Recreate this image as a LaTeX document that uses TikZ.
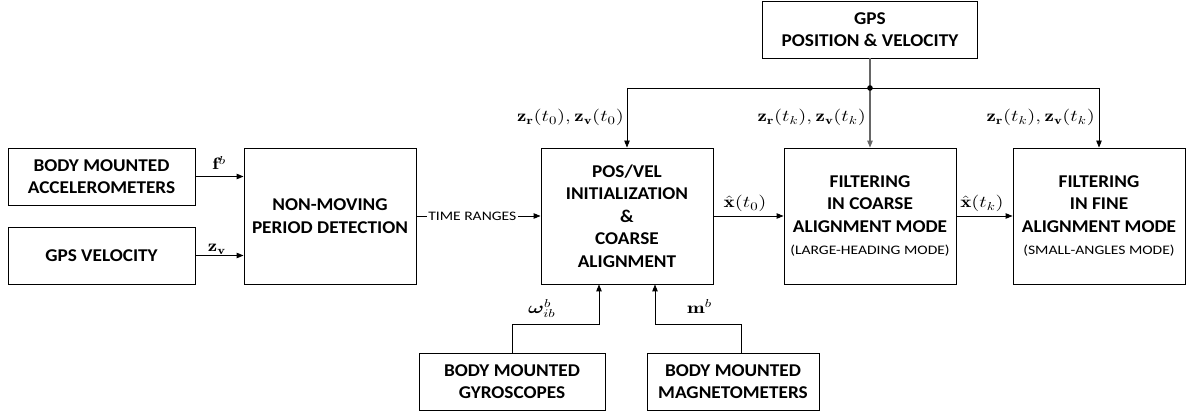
\RequirePackage{fix-cm}
\documentclass[tikz,border=0pt]{standalone}
\usepackage{fontspec}
\usepackage{amsmath,bm,graphicx}
\newfontfamily\carl[FakeStretch=1.07]{Carlito}
\newfontfamily\carlnote[FakeStretch=1.2]{Carlito}
\usetikzlibrary{arrows.meta}
\newcommand\blkfont{\carl\bfseries\fontsize{18}{22.5}\selectfont}
\newcommand\notefont{\carlnote\mdseries\fontsize{13}{16}\selectfont}
\newcommand\lblfont{\fontsize{16.5}{20}\selectfont}
\newcommand\mlbl[1]{\scalebox{1.28}[1]{$#1$}}
\begin{document}
\begin{tikzpicture}[x=1pt,y=-1pt,
  blk/.style={draw, line width=0.9pt, inner sep=0pt, align=center, font=\blkfont},
  conn/.style={line width=0.9pt, -{Triangle[length=7pt,width=5.5pt]}},
  wire/.style={line width=0.9pt},
  stem/.style={line width=1.1pt, draw=black!60},
  lbl/.style={inner sep=0pt, font=\lblfont}]
\useasboundingbox (0,0) rectangle (1187,414);

% sensor and source blocks
\node[blk, minimum width=187pt, minimum height=57pt] (acc) at (101.5,176.5) {BODY MOUNTED\\ACCELEROMETERS};
\node[blk, minimum width=187pt, minimum height=57pt] (gpsv) at (101.5,255.5) {GPS VELOCITY};
\node[blk, minimum width=215pt, minimum height=57pt] (gpspos) at (870,29.5) {GPS\\POSITION \& VELOCITY};
\node[blk, minimum width=186pt, minimum height=57pt] (gyro) at (512,381.5) {BODY MOUNTED\\GYROSCOPES};
\node[blk, minimum width=172pt, minimum height=57pt] (magn) at (733,381.5) {BODY MOUNTED\\MAGNETOMETERS};

% processing blocks
\node[blk, minimum width=172pt, minimum height=136pt] (nonmov) at (330,216) {NON-MOVING\\PERIOD DETECTION};
\node[blk, minimum width=172pt, minimum height=136pt] (posvel) at (627,216) {POS/VEL\\INITIALIZATION\\\&\\COARSE\\ALIGNMENT};
\node[blk, minimum width=172pt, minimum height=136pt] (coarse) at (870,216) {FILTERING\\IN COARSE\\ALIGNMENT MODE\\{\notefont (LARGE-HEADING MODE)}};
\node[blk, minimum width=172pt, minimum height=136pt] (fine) at (1099,216) {FILTERING\\IN FINE\\ALIGNMENT MODE\\{\notefont (SMALL-ANGLES MODE)}};

% inputs of the detector
\draw[conn] (acc.east) -- (nonmov.west |- acc.east);
\draw[conn] (gpsv.east) -- (nonmov.west |- gpsv.east);
\node[lbl, anchor=base east] (fb) at (226,170) {\mlbl{\mathbf{f}^{b}}};
\node[lbl, anchor=base east] (zv) at (226,252) {\mlbl{\mathbf{z}_{\mathbf{v}}}};

% detector to initialization
\draw[conn] (nonmov.east) -- node[pos=0.45, fill=white, inner sep=1.5pt, font=\notefont] (tr) {TIME RANGES} (posvel.west);

% chain of filters
\draw[conn] (posvel.east) -- (coarse.west);
\draw[conn] (coarse.east) -- (fine.west);
\node[lbl, anchor=base] (x0) at (745,208) {\mlbl{\hat{\mathbf{x}}(t_0)}};
\node[lbl, anchor=base] (xk) at (982,208) {\mlbl{\hat{\mathbf{x}}(t_k)}};

% GPS position & velocity distribution bus
\coordinate (bus) at (870,88);
\coordinate (busL) at (627,88);
\coordinate (busR) at (1099,88);
\draw[stem] (gpspos.south) -- (bus);
\draw[wire] (busL) -- (busR);
\draw[conn] (busL) -- (posvel.north);
\draw[conn, draw=black!60, line width=1.1pt] (bus) -- (coarse.north);
\draw[conn] (busR) -- (fine.north);
\fill (bus) circle (2.8pt);
\node[lbl, anchor=base east] (z0) at (624,122) {\mlbl{\mathbf{z}_{\mathbf{r}}(t_0),\mathbf{z}_{\mathbf{v}}(t_0)}};
\node[lbl, anchor=base east] (zk1) at (866,122) {\mlbl{\mathbf{z}_{\mathbf{r}}(t_k),\mathbf{z}_{\mathbf{v}}(t_k)}};
\node[lbl, anchor=base east] (zk2) at (1095,122) {\mlbl{\mathbf{z}_{\mathbf{r}}(t_k),\mathbf{z}_{\mathbf{v}}(t_k)}};

% gyroscope and magnetometer inputs
\coordinate (gyroTop) at (gyro.north);
\coordinate (magTop) at ([xshift=8pt]magn.north);
\draw[conn] (gyroTop) -- ++(0,-28) -| ([xshift=-28pt]posvel.south);
\draw[conn] (magTop) -- ++(0,-28) -| ([xshift=28pt]posvel.south);
\node[lbl, anchor=base west] (om) at (528,313) {\mlbl{\boldsymbol{\omega}_{ib}^{b}}};
\node[lbl, anchor=base west] (mb) at (687,313) {\mlbl{\mathbf{m}^{b}}};
\end{tikzpicture}
\end{document}
